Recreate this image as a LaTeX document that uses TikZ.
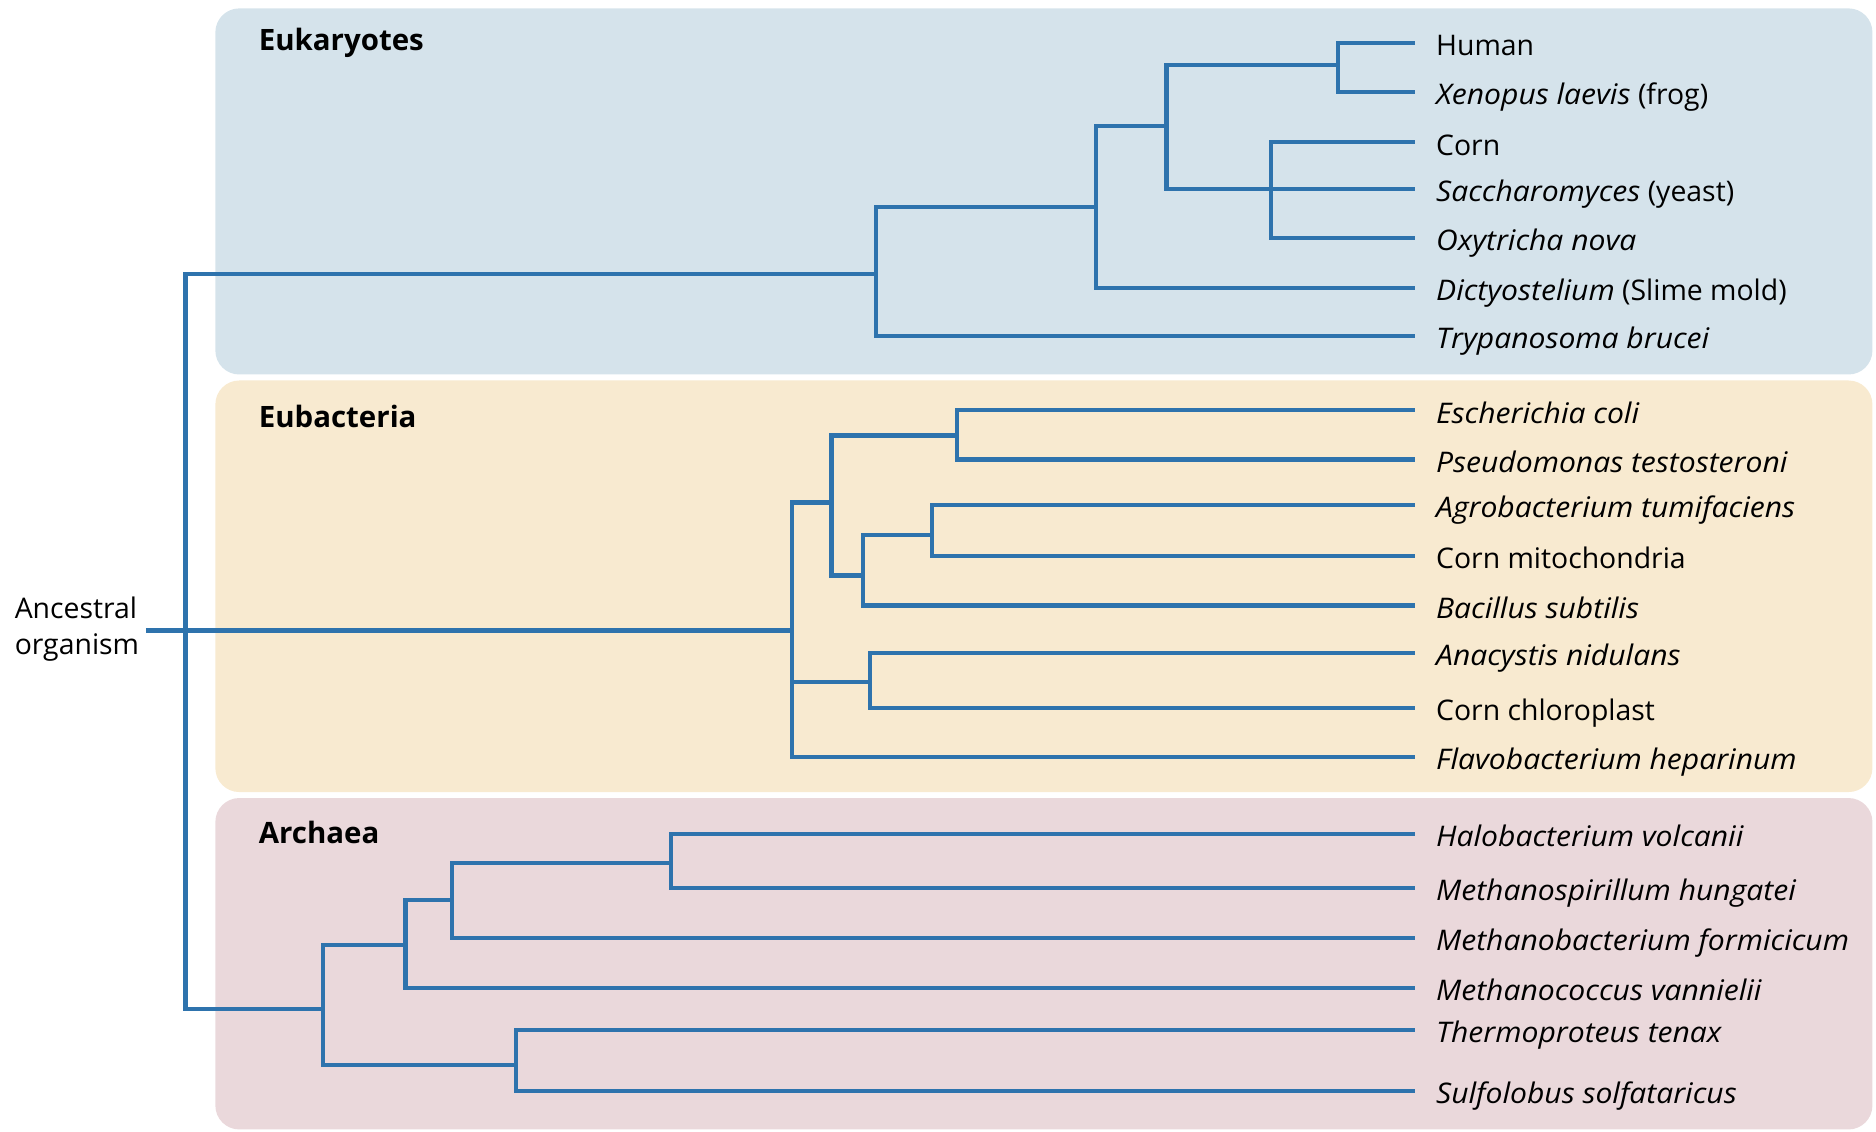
\documentclass[tikz,border=0pt]{standalone}
\usepackage{fontspec}
\setmainfont{Open Sans}[ItalicFeatures={FakeStretch=1.06}]

\definecolor{treeblue}{HTML}{2E73AD}
\definecolor{eukbg}{HTML}{D5E3EB}
\definecolor{eubbg}{HTML}{F8EAD0}
\definecolor{arcbg}{HTML}{EAD8DB}

\tikzset{
    branch/.style = {draw=treeblue, line width=2pt},
    groupbox/.style = {rounded corners=4mm},
    grouplabel/.style = {anchor=base west, inner sep=0pt, font=\bfseries\fontsize{14}{16}\selectfont},
    leaf/.style = {anchor=west, inner xsep=3.4mm, inner ysep=0pt, text height=12pt, text depth=0pt, font=\fontsize{13.5}{15}\selectfont},
}

\begin{document}
\begin{tikzpicture}[x=0.2mm, y=-0.2mm]
    \useasboundingbox (0,0) rectangle (1568,946);

    % Coloured group boxes
    \fill[groupbox, eukbg] (180,7) rectangle (1565,313);
    \fill[groupbox, eubbg] (180,318) rectangle (1565,662);
    \fill[groupbox, arcbg] (180,667) rectangle (1565,944);

    \node[grouplabel] (euk) at (216,42) {Eukaryotes};
    \node[grouplabel] (eub) at (216,357) {Eubacteria};
    \node[grouplabel] (arc) at (216,705) {Archaea};

    % Ancestral organism
    \node[anchor=west, align=left, inner sep=0pt, font=\fontsize{13.5}{17}\selectfont] (ancestor) at (12,526) {Ancestral\\organism};
    \coordinate (anc) at (122,527);
    \coordinate (root) at (155,527);

    % Branch points
    \coordinate (e1) at (732,229);
    \coordinate (e2) at (916,173);
    \coordinate (e3) at (975,105);
    \coordinate (e4) at (1118,54);
    \coordinate (e5) at (1062,158);

    \coordinate (b1) at (662,527);
    \coordinate (b2) at (695,420);
    \coordinate (b3) at (800,364);
    \coordinate (b4) at (721,481);
    \coordinate (b5) at (779,447);
    \coordinate (b6) at (727,570);

    \coordinate (a1) at (270,843);
    \coordinate (a2) at (339,790);
    \coordinate (a3) at (378,752);
    \coordinate (a4) at (561,721);
    \coordinate (a5) at (431,890);

    % Leaves
    \node[leaf] (human) at (1183,36) {Human};
    \node[leaf] (frog) at (1183,77) {\textit{Xenopus laevis} (frog)};
    \node[leaf] (corn) at (1183,119) {Corn};
    \node[leaf] (yeast) at (1183,158) {\textit{Saccharomyces} (yeast)};
    \node[leaf] (oxy) at (1183,199) {\textit{Oxytricha nova}};
    \node[leaf] (slime) at (1183,241) {\textit{Dictyostelium} (Slime mold)};
    \node[leaf] (tryp) at (1183,281) {\textit{Trypanosoma brucei}};

    \node[leaf] (ecoli) at (1183,343) {\textit{Escherichia coli}};
    \node[leaf] (pseudo) at (1183,384) {\textit{Pseudomonas testosteroni}};
    \node[leaf] (agro) at (1183,422) {\textit{Agrobacterium tumifaciens}};
    \node[leaf] (mito) at (1183,465) {Corn mitochondria};
    \node[leaf] (bacil) at (1183,506) {\textit{Bacillus subtilis}};
    \node[leaf] (anacy) at (1183,546) {\textit{Anacystis nidulans}};
    \node[leaf] (chloro) at (1183,592) {Corn chloroplast};
    \node[leaf] (flavo) at (1183,633) {\textit{Flavobacterium heparinum}};

    \node[leaf] (halo) at (1183,697) {\textit{Halobacterium volcanii}};
    \node[leaf] (mspir) at (1183,742) {\textit{Methanospirillum hungatei}};
    \node[leaf] (mbact) at (1183,784) {\textit{Methanobacterium formicicum}};
    \node[leaf] (mcocc) at (1183,826) {\textit{Methanococcus vannielii}};
    \node[leaf] (thermo) at (1183,861) {\textit{Thermoproteus tenax}};
    \node[leaf] (sulfo) at (1183,912) {\textit{Sulfolobus solfataricus}};

    % Root
    \draw[branch] (anc) -- (b1);
    \draw[branch] (root) |- (e1);
    \draw[branch] (root) |- (a1);

    % Eukaryotes
    \draw[branch] (e1) |- (e2);
    \draw[branch] (e1) |- (tryp.west);
    \draw[branch] (e2) |- (e3);
    \draw[branch] (e2) |- (slime.west);
    \draw[branch] (e3) |- (e4);
    \draw[branch] (e3) |- (yeast.west);
    \draw[branch] (e4) |- (human.west);
    \draw[branch] (e4) |- (frog.west);
    \draw[branch] (e5) |- (corn.west);
    \draw[branch] (e5) |- (oxy.west);

    % Eubacteria
    \draw[branch] (b1) |- (b2);
    \draw[branch] (b1) |- (flavo.west);
    \draw[branch] (b1 |- b6) -- (b6);
    \draw[branch] (b2) |- (b3);
    \draw[branch] (b2) |- (b4);
    \draw[branch] (b3) |- (ecoli.west);
    \draw[branch] (b3) |- (pseudo.west);
    \draw[branch] (b4) |- (b5);
    \draw[branch] (b4) |- (bacil.west);
    \draw[branch] (b5) |- (agro.west);
    \draw[branch] (b5) |- (mito.west);
    \draw[branch] (b6) |- (anacy.west);
    \draw[branch] (b6) |- (chloro.west);

    % Archaea
    \draw[branch] (a1) |- (a2);
    \draw[branch] (a1) |- (a5);
    \draw[branch] (a2) |- (a3);
    \draw[branch] (a2) |- (mcocc.west);
    \draw[branch] (a3) |- (a4);
    \draw[branch] (a3) |- (mbact.west);
    \draw[branch] (a4) |- (halo.west);
    \draw[branch] (a4) |- (mspir.west);
    \draw[branch] (a5) |- (thermo.west);
    \draw[branch] (a5) |- (sulfo.west);
\end{tikzpicture}
\end{document}
